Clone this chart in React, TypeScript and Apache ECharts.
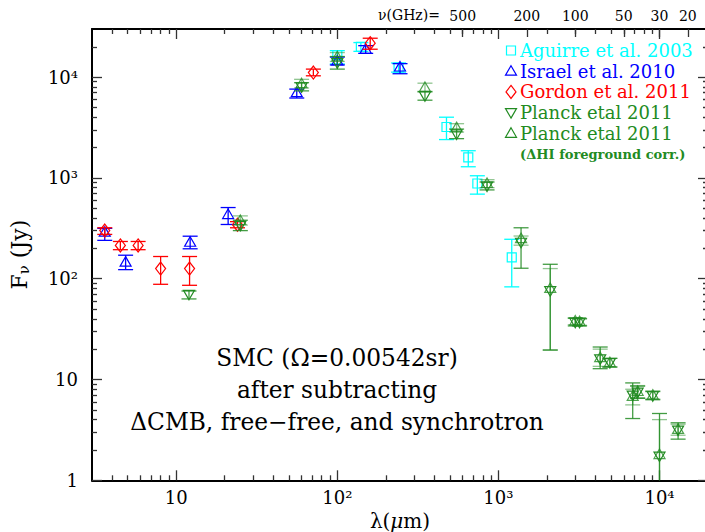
import React, { useEffect, useRef } from "react";
import * as echarts from "echarts";

// ---- data: [lambda (um), F_nu (Jy), lower, upper] ----
const aguirre2003 = [
  [100, 16500, 13500, 18300],
  [140, 20000, 18000, 22000],
  [240, 12400, 11200, 13800],
  [476, 3200, 2400, 4000],
  [650, 1600, 1290, 1860],
  [740, 880, 690, 1050],
  [1210, 163, 83, 246],
];
const israel2010 = [
  [3.6, 290, 240, 316],
  [4.85, 146, 123, 171],
  [12.2, 230, 198, 264],
  [21, 433, 345, 508],
  [56, 7000, 6200, 7600],
  [100, 14500, 13200, 15800],
  [150, 18900, 17200, 20500],
  [245, 12600, 10800, 13600],
];
const gordon2011 = [
  [3.6, 300, 275, 320],
  [4.5, 214, 194, 234],
  [5.8, 214, 194, 234],
  [8, 126, 88, 166],
  [12.1, 126, 86, 166],
  [24, 343, 320, 368],
  [71, 11100, 10300, 12000],
  [160, 21700, 18900, 24300],
];
const planck2011 = [
  [12, 70, 63, 75.5],
  [25, 338, 300, 380],
  [60, 8000, 7300, 8800],
  [100, 13900, 12000, 16000],
  [350, 6530, 5900, 7200],
  [550, 2730, 2450, 3050],
  [850, 830, 760, 910],
  [1382, 230, 127, 320],
  [2098, 76, 19.6, 139],
  [3000, 37, 34, 40.5],
  [3190, 37, 34, 40],
  [4283, 16, 12.8, 21],
  [4918, 14.7, 13.3, 16.2],
  [6818, 7.0, 4.1, 9.25],
  [7317, 7.5, 6.5, 8.6],
  [9085, 6.9, 6.3, 7.6],
  [10000, 1.74, 0.5, 4.6],
  [13043, 3.15, 2.56, 3.72],
];
const planck2011HI = [
  [25, 378, 340, 420],
  [60, 8600, 7800, 9500],
  [100, 15900, 14300, 17500],
  [350, 7890, 7100, 8700],
  [550, 3150, 2850, 3450],
  [850, 880, 800, 960],
  [1382, 250, 215, 265],
  [2098, 80, 19.6, 126],
  [3000, 38, 35, 41],
  [3190, 37.5, 34.5, 40.5],
  [4283, 16.5, 13.5, 20],
  [4918, 14.7, 13.3, 16.2],
  [6818, 6.8, 5.6, 8.0],
  [7317, 7.6, 6.6, 8.7],
  [9085, 7.0, 6.4, 7.7],
  [10000, 1.8, 0.5, 4.0],
  [13043, 3.2, 2.8, 3.6],
];

const lambdaRange = [3, 20000];
const fluxRange = [1, 30000];
const nuTickLabels = [500, 200, 100, 50, 30, 20]; // GHz
const legendLabels = [
  "Aguirre et al. 2003",
  "Israel et al. 2010",
  "Gordon et al. 2011",
  "Planck etal 2011",
  "Planck etal 2011",
];

const CYAN = "#00FFFF";
const BLUE = "#0000FF";
const RED = "#FF0000";
const GREEN = "#228B22";
const SERIF = '"DejaVu Serif", "Liberation Serif", serif';

const L = Math.log10;
const X_MIN = L(lambdaRange[0]);
const X_MAX = L(lambdaRange[1]);
const Y_MIN = L(fluxRange[0]);
const Y_MAX = L(fluxRange[1]);

function minorTicks(lo: number, hi: number) {
  const out: number[] = [];
  for (let n = -1; n <= 5; n++) {
    for (let k = 2; k <= 9; k++) {
      const v = k * Math.pow(10, n);
      if (v > lo * 1.0001 && v < hi * 0.9999) out.push(L(v));
    }
  }
  return out;
}
function majorTicks(lo: number, hi: number) {
  const out: number[] = [];
  for (let n = -1; n <= 5; n++) {
    const v = Math.pow(10, n);
    if (v >= lo * 0.9999 && v <= hi * 1.0001) out.push(n);
  }
  return out;
}

const SUP: Record<string, string> = { "2": "²", "3": "³", "4": "⁴" };

function markerShape(kind: string, cx: number, cy: number, color: string, opacity = 1) {
  const style = { fill: "none", stroke: color, lineWidth: 1.2, opacity };
  if (kind === "square") {
    return { type: "rect", shape: { x: cx - 4.5, y: cy - 4.5, width: 9, height: 9 }, style };
  }
  if (kind === "up") {
    return {
      type: "polygon",
      shape: { points: [[cx, cy - 5.5], [cx + 5.5, cy + 4], [cx - 5.5, cy + 4]] },
      style,
    };
  }
  if (kind === "down") {
    return {
      type: "polygon",
      shape: { points: [[cx, cy + 5.5], [cx + 5.5, cy - 4], [cx - 5.5, cy - 4]] },
      style,
    };
  }
  return {
    type: "polygon",
    shape: { points: [[cx, cy - 6.5], [cx + 5, cy], [cx, cy + 6.5], [cx - 5, cy]] },
    style,
  };
}

function makeSeries(name: string, rows: number[][], kind: string, color: string, errOpacity: number, markerOpacity: number) {
  return {
    type: "custom",
    name,
    xAxisIndex: 0,
    yAxisIndex: 0,
    data: rows.map((r) => [L(r[0]), L(r[1]), L(r[2]), L(r[3])]),
    encode: { x: 0, y: 1 },
    renderItem: (params: any, api: any) => {
      const lx = api.value(0);
      const c = api.coord([lx, api.value(1)]);
      const loV = api.value(2);
      const clamped = loV < Y_MIN;
      const pLo = api.coord([lx, Math.max(loV, Y_MIN)]);
      const pHi = api.coord([lx, api.value(3)]);
      const ls = { stroke: color, lineWidth: 1.3, opacity: errOpacity };
      const cw = 7.5;
      const children: any[] = [
        { type: "line", shape: { x1: c[0], y1: pLo[1], x2: c[0], y2: pHi[1] }, style: ls },
        { type: "line", shape: { x1: c[0] - cw, y1: pHi[1], x2: c[0] + cw, y2: pHi[1] }, style: ls },
      ];
      if (!clamped) {
        children.push({ type: "line", shape: { x1: c[0] - cw, y1: pLo[1], x2: c[0] + cw, y2: pLo[1] }, style: ls });
      }
      children.push(markerShape(kind, c[0], c[1], color, markerOpacity));
      return { type: "group", children };
    },
  };
}

const tickStyle = { color: "#333", width: 1.3 };

function xAxisDef(position: string, ticks: number[], len: number, extra: any = {}) {
  return {
    type: "value",
    position,
    min: X_MIN,
    max: X_MAX,
    splitLine: { show: false },
    axisLine: { show: false, onZero: false },
    axisTick: { show: true, inside: true, length: len, customValues: ticks, lineStyle: tickStyle },
    axisLabel: { show: false, customValues: ticks },
    ...extra,
  };
}
function yAxisDef(position: string, ticks: number[], len: number, extra: any = {}) {
  return {
    type: "value",
    position,
    min: Y_MIN,
    max: Y_MAX,
    splitLine: { show: false },
    axisLine: { show: false, onZero: false },
    axisTick: { show: true, inside: true, length: len, customValues: ticks, lineStyle: tickStyle },
    axisLabel: { show: false, customValues: ticks },
    ...extra,
  };
}

export default function App() {
  const ref = useRef<HTMLDivElement>(null);
  useEffect(() => {
    if (!ref.current) return;
    const chart = echarts.init(ref.current, undefined, { renderer: "svg" });
    const xMaj = majorTicks(lambdaRange[0], lambdaRange[1]);
    const xMin = minorTicks(lambdaRange[0], lambdaRange[1]);
    const yMaj = majorTicks(fluxRange[0], fluxRange[1]);
    const yMin = minorTicks(fluxRange[0], fluxRange[1]);
    const nuTicks = nuTickLabels.map((nu) => L(3e5 / nu));
    const frameLine = { show: true, onZero: false, lineStyle: { color: "#000", width: 2 } };

    const legendKinds = ["square", "up", "diamond", "down", "up"];
    const legendColors = [CYAN, BLUE, RED, GREEN, GREEN];
    const legendGraphics: any[] = [];
    legendLabels.forEach((t, i) => {
      const y = 50.5 + i * 20.7;
      legendGraphics.push(markerShape(legendKinds[i], 511, y, legendColors[i]));
      legendGraphics.push({
        type: "text",
        style: { text: t, x: 520, y, fill: legendColors[i], fontSize: 18, fontFamily: SERIF, verticalAlign: "middle", align: "left" },
      });
    });
    legendGraphics.push({
      type: "text",
      style: { text: "(ΔHI foreground corr.)", x: 520, y: 154, fill: GREEN, fontSize: 13, fontWeight: "bold", fontFamily: SERIF, verticalAlign: "middle", align: "left" },
    });

    const noteLines = ["SMC (Ω=0.00542sr)", "after subtracting", "ΔCMB, free−free, and synchrotron"];
    const noteY = [357, 389, 421];
    const noteGraphics = noteLines.map((t, i) => ({
      type: "text",
      style: { text: t, x: 337, y: noteY[i], fill: "#000", fontSize: 23.3, fontFamily: SERIF, align: "center", verticalAlign: "middle" },
    }));

    chart.setOption({
      animation: false,
      backgroundColor: "#fff",
      grid: { left: 92, top: 29, width: 616, height: 451.3, containLabel: false, outerBoundsMode: "none" },
      xAxis: [
        xAxisDef("bottom", xMaj, 10, {
          axisLine: frameLine,
          axisLabel: {
            show: true,
            customValues: xMaj,
            margin: 8,
            fontSize: 18,
            fontFamily: SERIF,
            color: "#000",
            formatter: (v: number) => (Math.round(v) === 1 ? "10" : "10" + SUP[String(Math.round(v))]),
          },
          name: "λ({i|μ}m)",
          nameLocation: "middle",
          nameGap: 25,
          nameTextStyle: {
            fontSize: 20,
            lineHeight: 20,
            fontFamily: SERIF,
            color: "#000",
            rich: { i: { fontSize: 20, lineHeight: 20, fontFamily: SERIF, fontStyle: "italic", color: "#000" } },
          },
        }),
        xAxisDef("bottom", xMin, 5),
        xAxisDef("top", xMaj, 10, { axisLine: frameLine }),
        xAxisDef("top", xMin, 5),
        xAxisDef("top", nuTicks, 8, {
          axisLabel: {
            show: true,
            customValues: nuTicks,
            margin: 6,
            fontSize: 14,
            fontFamily: SERIF,
            color: "#000",
            formatter: (v: number) => String(Math.round(3e5 / Math.pow(10, v))),
          },
        }),
      ],
      yAxis: [
        yAxisDef("left", yMaj, 10, {
          axisLine: frameLine,
          axisLabel: {
            show: true,
            customValues: yMaj,
            margin: 14,
            fontSize: 18,
            fontFamily: SERIF,
            color: "#000",
            formatter: (v: number) => {
              const n = Math.round(v);
              return n === 0 ? "1" : n === 1 ? "10" : "10" + SUP[String(n)];
            },
          },
          name: "F{s|ν} (Jy)",
          nameLocation: "middle",
          nameGap: 62,
          nameTextStyle: {
            fontSize: 22,
            fontFamily: SERIF,
            color: "#000",
            rich: { s: { fontSize: 15, fontFamily: SERIF, color: "#000", padding: [0, 0, -10, 0] } },
          },
        }),
        yAxisDef("left", yMin, 5),
        yAxisDef("right", yMaj, 10, { axisLine: frameLine }),
        yAxisDef("right", yMin, 5),
      ],
      series: [
        makeSeries("Aguirre et al. 2003", aguirre2003, "square", CYAN, 1, 1),
        makeSeries("Israel et al. 2010", israel2010, "up", BLUE, 1, 1),
        makeSeries("Gordon et al. 2011", gordon2011, "diamond", RED, 1, 1),
        makeSeries("Planck etal 2011", planck2011, "down", GREEN, 0.85, 1),
        makeSeries("Planck etal 2011 (ΔHI foreground corr.)", planck2011HI, "up", GREEN, 0.5, 0.8),
      ],
      graphic: [
        ...legendGraphics,
        ...noteGraphics,
        {
          type: "text",
          style: { text: "ν(GHz)=", x: 378, y: 15, fill: "#000", fontSize: 14, fontFamily: SERIF, verticalAlign: "middle", align: "left" },
        },
      ],
    });
    return () => chart.dispose();
  }, []);
  return <div ref={ref} style={{ position: "fixed", left: 0, top: 0, width: 705, height: 532 }} />;
}
